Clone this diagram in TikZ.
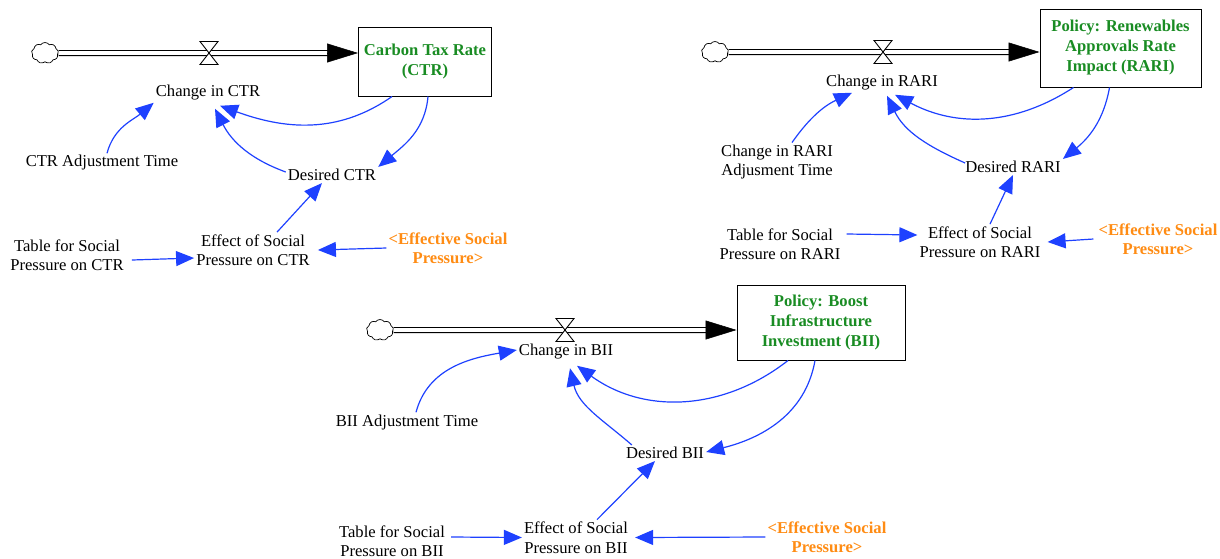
\documentclass[tikz,border=0pt]{standalone}
\usepackage{fontspec}
\setmainfont{Liberation Serif}
\usetikzlibrary{arrows.meta,shapes.symbols}
\definecolor{linkblue}{RGB}{30,65,255}
\definecolor{stockgreen}{RGB}{25,140,35}
\definecolor{shadoworange}{RGB}{255,140,20}
\begin{document}
\begin{tikzpicture}[x=1pt,y=1pt,
  var/.style={align=center,inner sep=2pt,font=\fontsize{16.6}{19.5}\selectfont},
  shadowvar/.style={var,font=\fontsize{16.6}{19.5}\selectfont\bfseries,text=shadoworange},
  stock/.style={draw,line width=1pt,align=center,inner sep=2pt,font=\fontsize{16.6}{20}\selectfont\bfseries,text=stockgreen},
  src/.style={cloud,cloud puffs=9,cloud puff arc=110,aspect=1.25,draw,line width=.7pt,minimum width=27pt,minimum height=21pt,inner sep=0pt},
  pipe/.style={line width=1.1pt,double=white,double distance=3.8pt,shorten >=20pt},
  pipetip/.style={-{Triangle[length=31pt,width=19pt]},line width=.5pt},
  link/.style={linkblue,line width=1.2pt,-{Triangle[length=18pt,width=15pt]}},
  valve/.pic={\filldraw[fill=white,line width=.9pt] (-9,11.5) -- (9,11.5) -- (-9,-11.5) -- (9,-11.5) -- cycle;}]
  \useasboundingbox (0,0) rectangle (1220,-558);

  % Carbon Tax Rate
  \node[src] (cloudCTR) at (45,-53) {};
  \node[stock,minimum width=133pt,minimum height=69pt] (stockCTR) at (425,-61.5) {Carbon Tax Rate\\(CTR)};
  \coordinate (inCTR) at (stockCTR.west |- cloudCTR);
  \draw[pipe] (cloudCTR.east) -- (inCTR);
  \draw[pipetip] ([xshift=-31pt]inCTR) -- (inCTR);
  \coordinate (valveCTR) at (209,-53);
  \pic at (valveCTR) {valve};
  \node[var] (chgCTR) at (208,-93) {Change in CTR};
  \node[var] (adjCTR) at (102,-163) {CTR Adjustment Time};
  \node[var] (desCTR) at (332,-175) {Desired CTR};
  \node[var] (effCTR) at (253,-250) {Effect of Social\\Pressure on CTR};
  \node[var] (tabCTR) at (67,-255) {Table for Social\\Pressure on CTR};
  \node[shadowvar] (espCTR) at (448,-248) {<Effective Social\\Pressure>};
  \draw[link] ([xshift=5pt]adjCTR.north) to[out=75,in=220] (chgCTR.south west);
  \draw[link] ([xshift=-33pt]stockCTR.south) to[out=215,in=-20] ([xshift=12pt,yshift=-3pt]chgCTR.south);
  \draw[link] ([xshift=3pt]stockCTR.south) to[out=-95,in=40] (desCTR.north east);
  \draw[link] ([yshift=3pt]desCTR.west) to[out=160,in=-63] ([xshift=7pt,yshift=-6pt]chgCTR.south);
  \draw[link] ([xshift=24pt]effCTR.north) -- ([xshift=-10pt]desCTR.south);
  \draw[link] ([xshift=6pt,yshift=-5pt]tabCTR.east) -- ([yshift=-8pt]effCTR.west);
  \draw[link] (espCTR.west) -- ([xshift=6pt]effCTR.east);

  % Renewables Approvals Rate Impact
  \node[src] (cloudRARI) at (715,-52) {};
  \node[stock,minimum width=161pt,minimum height=78pt] (stockRARI) at (1120.5,-48) {Policy: Renewables\\Approvals Rate\\Impact (RARI)};
  \coordinate (inRARI) at (stockRARI.west |- cloudRARI);
  \draw[pipe] (cloudRARI.east) -- (inRARI);
  \draw[pipetip] ([xshift=-31pt]inRARI) -- (inRARI);
  \coordinate (valveRARI) at (883,-52);
  \pic at (valveRARI) {valve};
  \node[var] (chgRARI) at (882,-83) {Change in RARI};
  \node[var] (adjRARI) at (777,-162) {Change in RARI\\Adjusment Time};
  \node[var] (desRARI) at (1013,-167) {Desired RARI};
  \node[var] (effRARI) at (980,-242) {Effect of Social\\Pressure on RARI};
  \node[var] (tabRARI) at (780,-244) {Table for Social\\Pressure on RARI};
  \node[shadowvar] (espRARI) at (1158,-239) {<Effective Social\\Pressure>};
  \draw[link] ([xshift=15pt]adjRARI.north) to[out=55,in=205] ([xshift=-30pt]chgRARI.south);
  \draw[link] ([xshift=-47pt]stockRARI.south) to[out=213,in=-28] ([xshift=13pt,yshift=-2pt]chgRARI.south);
  \draw[link] ([xshift=-11pt]stockRARI.south) to[out=-100,in=39] (desRARI.north east);
  \draw[link] ([xshift=2pt,yshift=4pt]desRARI.west) to[out=156,in=-64] ([xshift=5pt,yshift=-3pt]chgRARI.south);
  \draw[link] ([xshift=10pt]effRARI.north) -- (desRARI.south);
  \draw[link] ([xshift=4pt,yshift=10pt]tabRARI.east) -- ([yshift=7pt]effRARI.west);
  \draw[link] ([xshift=-3pt]espRARI.west) -- ([xshift=5pt]effRARI.east);

  % Boost Infrastructure Investment
  \node[src] (cloudBII) at (380,-330) {};
  \node[stock,minimum width=168pt,minimum height=75pt] (stockBII) at (821,-322.5) {Policy: Boost\\Infrastructure\\Investment (BII)};
  \coordinate (inBII) at (stockBII.west |- cloudBII);
  \draw[pipe] (cloudBII.east) -- (inBII);
  \draw[pipetip] ([xshift=-31pt]inBII) -- (inBII);
  \coordinate (valveBII) at (565,-330);
  \pic at (valveBII) {valve};
  \node[var] (chgBII) at (566,-352) {Change in BII};
  \node[var] (adjBII) at (407,-422) {BII Adjustment Time};
  \node[var] (desBII) at (665,-453) {Desired BII};
  \node[var] (effBII) at (576,-537.5) {Effect of Social\\Pressure on BII};
  \node[var] (tabBII) at (392,-541) {Table for Social\\Pressure on BII};
  \node[shadowvar] (espBII) at (827,-537) {<Effective Social\\Pressure>};
  \draw[link] ([xshift=9pt]adjBII.north) to[out=75,in=190] ([yshift=2pt]chgBII.west);
  \draw[link] ([xshift=-33pt]stockBII.south) to[out=218,in=-36] ([xshift=11pt,yshift=-4pt]chgBII.south);
  \draw[link] ([xshift=-6pt]stockBII.south) to[out=-100,in=14] ([yshift=1pt]desBII.east);
  \draw[link] ([xshift=8pt]desBII.north west) to[out=139,in=-77] ([xshift=4pt,yshift=-6.5pt]chgBII.south);
  \draw[link] ([xshift=21pt]effBII.north) -- ([xshift=-10pt]desBII.south);
  \draw[link] ([xshift=4pt,yshift=4pt]tabBII.east) -- (effBII.west);
  \draw[link] (espBII.west) -- ([xshift=5pt]effBII.east);
\end{tikzpicture}
\end{document}
